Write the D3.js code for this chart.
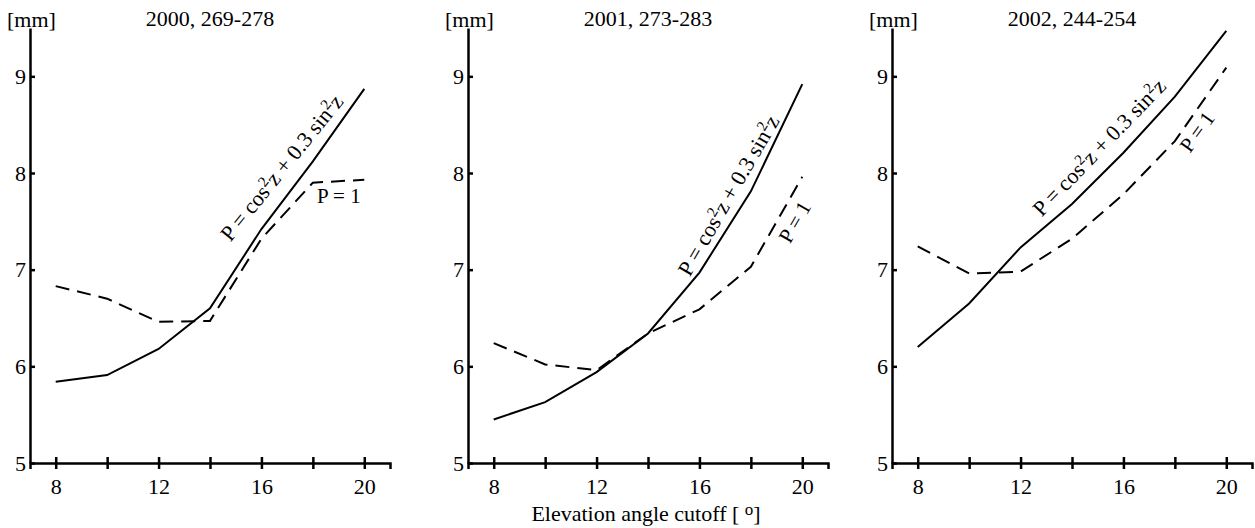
<!DOCTYPE html>
<html>
<head>
<meta charset="utf-8">
<script src="https://cdn.jsdelivr.net/npm/d3@7"></script>
<style>
  body { margin: 0; background: #fff; }
  svg { display: block; }
  text { font-family: "Liberation Serif", "Times New Roman", serif; fill: #000; }
</style>
</head>
<body>
<div id="chart"></div>
<script>
var svgWidth = 1255;
var svgHeight = 528;

// data
var cutoffs = [8, 10, 12, 14, 16, 18, 20];
var xTickLabels = [8, 12, 16, 20];
var yTicks = [5, 6, 7, 8, 9];
var titles = ["2000, 269-278", "2001, 273-283", "2002, 244-254"];

var weighted2000 = [5.84, 5.91, 6.18, 6.60, 7.42, 8.12, 8.87];
var unit2000 = [6.83, 6.70, 6.46, 6.47, 7.32, 7.90, 7.93];
var weighted2001 = [5.45, 5.63, 5.94, 6.34, 6.97, 7.81, 8.92];
var unit2001 = [6.24, 6.02, 5.96, 6.34, 6.59, 7.03, 7.96];
var weighted2002 = [6.20, 6.65, 7.23, 7.68, 8.21, 8.79, 9.47];
var unit2002 = [7.24, 6.96, 6.98, 7.32, 7.78, 8.33, 9.09];

var panels = [
  { title: titles[0], solid: weighted2000, dashed: unit2000 },
  { title: titles[1], solid: weighted2001, dashed: unit2001 },
  { title: titles[2], solid: weighted2002, dashed: unit2002 }
];

// where the curve labels sit (data units) and their angle
var formulaLabels = [
  { x: 14.80, y: 7.28, angle: -51 },
  { x: 15.62, y: 6.92, angle: -60 },
  { x: 12.82, y: 7.54, angle: -46 }
];
var unitLabels = [
  { x: 18.16, y: 7.69, angle: 0 },
  { x: 19.52, y: 7.26, angle: -60 },
  { x: 18.59, y: 8.20, angle: -54 }
];

var axisLeftX = [30, 468, 892];
var plotW = 360;
var yBottom = 463, yTop = 28;
var fontSize = 22;
var noteSize = 22;

var svg = d3.select("#chart")
  .append("svg")
  .attr("width", svgWidth)
  .attr("height", svgHeight);

var yScale = d3.scaleLinear()
  .domain([5, 9.5])
  .range([yBottom, yTop]);

panels.forEach(function (p, i) {
  var x0 = axisLeftX[i];
  var xScale = d3.scaleLinear()
    .domain([7, 21])
    .range([x0, x0 + plotW]);

  var g = svg.append("g");

  // x axis, ticks cross the line
  var xAxis = d3.axisBottom(xScale)
    .tickValues(cutoffs)
    .tickSizeOuter(0)
    .tickSize(6)
    .tickFormat(d => xTickLabels.includes(d) ? d : "");
  var xg = g.append("g")
    .attr("transform", `translate(0, ${yBottom})`)
    .call(xAxis);
  xg.select(".domain").attr("stroke", "#000").attr("stroke-width", 2.5);
  xg.selectAll(".tick line")
    .attr("y1", -6).attr("y2", 6)
    .attr("stroke", "#000").attr("stroke-width", 2.5);
  xg.selectAll(".tick text")
    .attr("y", 31).attr("dy", null)
    .style("font-size", fontSize + "px")
    .attr("fill", "#000");

  // y axis, short inner ticks
  var yAxis = d3.axisLeft(yScale)
    .tickValues(yTicks)
    .tickFormat(d3.format("d"))
    .tickSizeOuter(0)
    .tickSize(0)
    .tickPadding(4);
  var yg = g.append("g")
    .attr("transform", `translate(${x0}, 0)`)
    .call(yAxis);
  yg.select(".domain").attr("stroke", "#000").attr("stroke-width", 2.5);
  yg.selectAll(".tick line")
    .attr("x1", 0).attr("x2", 5)
    .attr("stroke", "#000").attr("stroke-width", 2.5);
  yg.selectAll(".tick text")
    .attr("dy", "0.33em")
    .style("font-size", fontSize + "px")
    .attr("fill", "#000");

  // unit and title
  g.append("text")
    .attr("x", x0 - 23)
    .attr("y", 27)
    .style("font-size", fontSize + "px")
    .text("[mm]");
  g.append("text")
    .attr("x", x0 + plotW / 2)
    .attr("y", 26)
    .attr("text-anchor", "middle")
    .style("font-size", fontSize + "px")
    .text(p.title);

  var line = d3.line()
    .x((d, j) => xScale(cutoffs[j]))
    .y(d => yScale(d));

  g.append("path")
    .datum(p.dashed)
    .attr("d", line)
    .attr("fill", "none")
    .attr("stroke", "#000")
    .attr("stroke-width", 2)
    .attr("stroke-dasharray", "14,8");

  g.append("path")
    .datum(p.solid)
    .attr("d", line)
    .attr("fill", "none")
    .attr("stroke", "#000")
    .attr("stroke-width", 2);

  // curve labels
  var fl = formulaLabels[i];
  var ft = g.append("text")
    .attr("transform", `translate(${xScale(fl.x)}, ${yScale(fl.y)}) rotate(${fl.angle})`)
    .style("font-size", noteSize + "px");
  ft.append("tspan").text("P = cos");
  ft.append("tspan").attr("dy", -8).style("font-size", "15px").text("2");
  ft.append("tspan").attr("dy", 8).text("z + 0.3 sin");
  ft.append("tspan").attr("dy", -8).style("font-size", "15px").text("2");
  ft.append("tspan").attr("dy", 8).text("z");

  var ul = unitLabels[i];
  g.append("text")
    .attr("transform", `translate(${xScale(ul.x)}, ${yScale(ul.y)}) rotate(${ul.angle})`)
    .style("font-size", "21px")
    .text("P = 1");
});

// shared x label
var xl = svg.append("text")
  .attr("x", 646)
  .attr("y", 521)
  .attr("text-anchor", "middle")
  .style("font-size", fontSize + "px");
xl.append("tspan").text("Elevation angle cutoff [ ");
xl.append("tspan").attr("dy", -6).style("font-size", "17px").text("o");
xl.append("tspan").attr("dy", 6).text("]");
</script>
</body>
</html>
